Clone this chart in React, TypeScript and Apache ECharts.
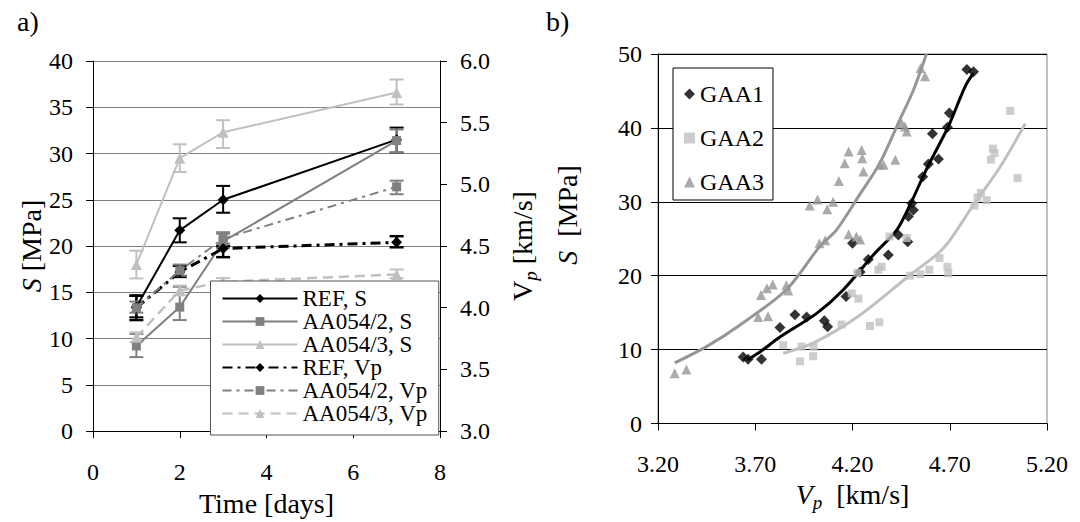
import React, { useEffect, useRef } from 'react';
import * as echarts from 'echarts';

// ---------- Panel a) ----------
const days = [1, 2, 3, 7];
const xTicksA = [0, 2, 4, 6, 8];

const refS = [13.4, 21.7, 25.0, 31.5];
const refSLow = [12.3, 20.4, 23.6, 30.1];
const refSHigh = [14.6, 23.0, 26.5, 32.8];

const aa2S = [9.2, 13.4, 20.5, 31.4];
const aa2SLow = [8.0, 12.0, 19.8, 30.1];
const aa2SHigh = [10.5, 15.6, 21.5, 32.6];

const aa3S = [18.0, 29.5, 32.3, 36.6];
const aa3SLow = [16.5, 28.0, 30.6, 35.3];
const aa3SHigh = [19.5, 31.0, 33.6, 38.0];

const refVp = [4.0, 4.29, 4.48, 4.53];
const refVpLow = [3.9, 4.25, 4.41, 4.49];
const refVpHigh = [4.1, 4.34, 4.5, 4.58];

const aa2Vp = [4.0, 4.3, 4.56, 4.98];
const aa2VpLow = [3.96, 4.26, 4.52, 4.92];
const aa2VpHigh = [4.05, 4.35, 4.6, 5.03];

const aa3Vp = [3.76, 4.14, 4.21, 4.27];
const aa3VpLow = [3.72, 4.1, 4.18, 4.24];
const aa3VpHigh = [3.8, 4.18, 4.24, 4.31];

// ---------- Panel b) ----------
const xTicksB = [3.2, 3.7, 4.2, 4.7, 5.2];

const gaa1Vp = [3.638, 3.663, 3.732, 3.827, 3.904, 3.964, 4.055, 4.072, 4.167, 4.2, 4.239, 4.281, 4.384, 4.436, 4.484, 4.487, 4.513, 4.505, 4.561, 4.59, 4.642, 4.611, 4.688, 4.698, 4.788, 4.822];
const gaa1S = [9.0, 8.7, 8.7, 13.0, 14.7, 14.4, 13.9, 13.1, 17.2, 24.4, 20.5, 22.2, 22.8, 25.5, 24.6, 28.0, 28.9, 29.8, 33.4, 35.1, 35.8, 39.2, 40.1, 42.0, 47.9, 47.6];

const gaa2Vp = [3.844, 3.93, 3.938, 3.998, 4.0, 4.144, 4.29, 4.338, 4.196, 4.23, 4.225, 4.333, 4.35, 4.39, 4.479, 4.496, 4.548, 4.595, 4.647, 4.688, 4.693, 4.843, 4.86, 4.827, 4.89, 4.912, 4.922, 4.93, 5.011, 5.049];
const gaa2S = [10.6, 8.4, 10.4, 9.1, 10.4, 13.4, 13.2, 13.7, 17.6, 16.9, 20.4, 20.8, 21.2, 25.3, 25.1, 20.0, 20.2, 20.8, 22.4, 21.2, 20.3, 30.6, 31.2, 29.5, 30.2, 35.7, 37.2, 36.6, 42.3, 33.2];

const gaa3Vp = [3.286, 3.346, 3.715, 3.766, 3.73, 3.76, 3.79, 3.86, 3.87, 4.03, 4.06, 4.18, 4.22, 4.24, 3.98, 4.02, 4.07, 4.1, 4.13, 4.16, 4.18, 4.247, 4.25, 4.256, 4.34, 4.36, 4.42, 4.453, 4.479, 4.47, 4.55, 4.573];
const gaa3S = [6.8, 7.3, 14.4, 14.5, 17.4, 18.3, 18.8, 18.7, 18.0, 24.4, 24.8, 25.6, 25.3, 24.9, 29.5, 30.3, 29.0, 30.0, 32.8, 35.2, 36.8, 37.0, 35.9, 34.1, 35.0, 35.0, 35.7, 40.6, 39.5, 40.2, 48.1, 47.0];

const trend1Vp = [3.66, 3.72, 3.827, 4.016, 4.153, 4.307, 4.428, 4.496, 4.582, 4.693, 4.779, 4.822];
const trend1S = [8.6, 9.6, 11.7, 14.9, 18.1, 22.8, 26.2, 29.6, 34.5, 40.2, 45.6, 47.4];
const trend2Vp = [3.844, 4.0, 4.23, 4.496, 4.667, 4.822, 4.959, 5.088];
const trend2S = [9.5, 10.9, 14.5, 20.1, 23.7, 29.6, 34.7, 40.6];
const trend3Vp = [3.286, 3.449, 3.62, 3.86, 4.03, 4.118, 4.24, 4.34, 4.443, 4.513, 4.58];
const trend3S = [8.2, 10.4, 13.3, 18.1, 23.9, 26.2, 31.1, 35.2, 41.1, 45.1, 50.0];

const BLACK = '#000000';
const DARK = '#808080';
const LIGHT = '#c0c0c0';
const MID = '#969696';
const FONT = 'Liberation Serif';
const FS = 24;   // tick labels
const FT = 28;   // axis titles

const zip = (a: number[], b: number[]) => a.map((v, i) => [v, b[i]]);

function errSeries(name: string, lo: number[], hi: number[], color: string, yAxisIndex: number, width: number) {
  return {
    type: 'custom',
    name,
    xAxisIndex: 0,
    yAxisIndex,
    silent: true,
    z: 3,
    data: days.map((d, i) => [d, lo[i], hi[i]]),
    encode: { x: 0, y: [1, 2] },
    renderItem: (_params: any, api: any) => {
      const x = api.value(0);
      const a = api.coord([x, api.value(1)]);
      const b = api.coord([x, api.value(2)]);
      const w = 7;
      const style = { stroke: color, lineWidth: width };
      return {
        type: 'group',
        children: [
          { type: 'line', shape: { x1: a[0], y1: a[1], x2: b[0], y2: b[1] }, style },
          { type: 'line', shape: { x1: a[0] - w, y1: a[1], x2: a[0] + w, y2: a[1] }, style },
          { type: 'line', shape: { x1: b[0] - w, y1: b[1], x2: b[0] + w, y2: b[1] }, style },
        ],
      };
    },
  };
}

function lineSeries(name: string, vals: number[], color: string, symbol: string, size: number, yAxisIndex: number, width: number, dash: any) {
  return {
    type: 'line',
    name,
    xAxisIndex: 0,
    yAxisIndex,
    data: zip(days, vals),
    symbol,
    symbolSize: size,
    showSymbol: true,
    z: 4,
    lineStyle: { color, width, type: dash },
    itemStyle: { color },
  };
}

const tickLabel = { fontSize: FS, fontFamily: FONT, color: BLACK };
const axisLineBlack = { show: true, lineStyle: { color: BLACK, width: 1 } };

export default function App() {
  const ref = useRef<HTMLDivElement>(null);
  useEffect(() => {
    if (!ref.current) return;
    const chart = echarts.init(ref.current, undefined, { renderer: 'svg' });
    const option: any = {
      animation: false,
      backgroundColor: '#ffffff',
      textStyle: { fontFamily: FONT },
      grid: [
        { left: 93, top: 61, width: 347, height: 372 },
        { left: 658, top: 54, width: 389, height: 369.5, show: true, borderColor: DARK, borderWidth: 1, backgroundColor: 'transparent' },
      ],
      xAxis: [
        {
          gridIndex: 0, type: 'value', min: 0, max: 8, interval: 2,
          axisLine: axisLineBlack,
          axisTick: { show: true, length: 7, lineStyle: { color: BLACK } },
          axisLabel: { ...tickLabel, margin: 29, customValues: xTicksA },
          splitLine: { show: false },
          name: 'Time [days]', nameLocation: 'middle', nameGap: 52,
          nameTextStyle: { fontSize: FT, fontFamily: FONT, color: BLACK },
        },
        {
          gridIndex: 1, type: 'value', min: 3.2, max: 5.2,
          axisLine: axisLineBlack,
          axisTick: { show: true, length: 7, lineStyle: { color: BLACK }, customValues: xTicksB },
          axisLabel: { ...tickLabel, margin: 28, customValues: xTicksB, formatter: (v: number) => v.toFixed(2) },
          splitLine: { show: false },
          name: '{v|V}{sub|p}  [km/s]', nameLocation: 'middle', nameGap: 50,
          nameTextStyle: {
            fontSize: FT, fontFamily: FONT, color: BLACK,
            rich: {
              v: { fontSize: FT, fontFamily: FONT, fontStyle: 'italic', color: BLACK },
              sub: { fontSize: 19, fontFamily: FONT, fontStyle: 'italic', color: BLACK, padding: [16, 0, 0, 0] },
            },
          },
        },
      ],
      yAxis: [
        {
          gridIndex: 0, type: 'value', min: 0, max: 40, interval: 5,
          axisLine: axisLineBlack,
          axisTick: { show: true, length: 7, lineStyle: { color: BLACK } },
          axisLabel: { ...tickLabel, margin: 20 },
          splitLine: { show: true, lineStyle: { color: DARK, width: 1 } },
          name: '{i|S} [MPa]', nameLocation: 'middle', nameGap: 46, nameRotate: 90,
          nameTextStyle: {
            fontSize: FT, fontFamily: FONT, color: BLACK,
            rich: { i: { fontSize: FT, fontFamily: FONT, fontStyle: 'italic', color: BLACK } },
          },
        },
        {
          gridIndex: 0, type: 'value', position: 'right', min: 3, max: 6, interval: 0.5,
          axisLine: axisLineBlack,
          axisTick: { show: true, length: 7, lineStyle: { color: BLACK } },
          axisLabel: { ...tickLabel, margin: 20, formatter: (v: number) => v.toFixed(1) },
          splitLine: { show: false },
          name: '{v|V}{sub|p} [km/s]', nameLocation: 'middle', nameGap: 65, nameRotate: 90,
          nameTextStyle: {
            fontSize: FT, fontFamily: FONT, color: BLACK,
            rich: {
              v: { fontSize: FT, fontFamily: FONT, color: BLACK },
              sub: { fontSize: 19, fontFamily: FONT, fontStyle: 'italic', color: BLACK, padding: [16, 0, 0, 0] },
            },
          },
        },
        {
          gridIndex: 1, type: 'value', min: 0, max: 50, interval: 10,
          axisLine: axisLineBlack,
          axisTick: { show: true, length: 7, lineStyle: { color: BLACK } },
          axisLabel: { ...tickLabel, margin: 16 },
          splitLine: { show: true, lineStyle: { color: BLACK, width: 1 } },
        },
      ],
      legend: [
        {
          left: 210.5, top: 281, orient: 'vertical',
          data: ['REF, S', 'AA054/2, S', 'AA054/3, S', 'REF, Vp', 'AA054/2, Vp', 'AA054/3, Vp'],
          itemWidth: 75, itemHeight: 11, itemGap: 0,
          padding: [6, 11, 10, 11],
          backgroundColor: '#ffffff', borderColor: '#555555', borderWidth: 1, borderRadius: 0,
          textStyle: { fontSize: 23, fontFamily: FONT, color: BLACK, lineHeight: 21.5 },
          selectedMode: false, z: 10,
        },
        {
          left: 673, top: 68, orient: 'vertical',
          data: ['GAA1', 'GAA2', 'GAA3'],
          itemWidth: 11, itemHeight: 11, itemGap: 20,
          padding: [14, 9, 6, 11],
          backgroundColor: '#ffffff', borderColor: BLACK, borderWidth: 1, borderRadius: 0,
          textStyle: { fontSize: 24, fontFamily: FONT, color: BLACK, lineHeight: 22 },
          selectedMode: false, z: 10,
        },
      ],
      graphic: [
        { type: 'text', x: 17, y: 7, style: { text: 'a)', fontSize: FT, fontFamily: FONT, fill: BLACK } },
        { type: 'text', x: 546, y: 7, style: { text: 'b)', fontSize: FT, fontFamily: FONT, fill: BLACK } },
        {
          type: 'text', x: 567, y: 215, rotation: Math.PI / 2,
          style: {
            text: '{i|S}  [MPa]', align: 'center', verticalAlign: 'middle',
            fontSize: FT, fontFamily: FONT, fill: BLACK,
            rich: { i: { fontSize: FT, fontFamily: FONT, fontStyle: 'italic', fill: BLACK } },
          },
        },
      ],
      series: [
        errSeries('err REF S', refSLow, refSHigh, BLACK, 0, 2),
        errSeries('err AA054/2 S', aa2SLow, aa2SHigh, DARK, 0, 2),
        errSeries('err AA054/3 S', aa3SLow, aa3SHigh, LIGHT, 0, 2),
        errSeries('err REF Vp', refVpLow, refVpHigh, BLACK, 1, 2.5),
        errSeries('err AA054/2 Vp', aa2VpLow, aa2VpHigh, DARK, 1, 2),
        errSeries('err AA054/3 Vp', aa3VpLow, aa3VpHigh, LIGHT, 1, 2),
        lineSeries('REF, S', refS, BLACK, 'diamond', 11, 0, 2, 'solid'),
        lineSeries('AA054/2, S', aa2S, DARK, 'rect', 9, 0, 2, 'solid'),
        lineSeries('AA054/3, S', aa3S, LIGHT, 'triangle', 11, 0, 2, 'solid'),
        lineSeries('REF, Vp', refVp, BLACK, 'diamond', 11, 1, 3, [10, 5, 3, 5]),
        lineSeries('AA054/2, Vp', aa2Vp, DARK, 'rect', 9, 1, 2, [9, 5, 3, 5]),
        lineSeries('AA054/3, Vp', aa3Vp, LIGHT, 'triangle', 11, 1, 2.5, [10, 6]),
        {
          type: 'line', name: 'GAA3 trend', xAxisIndex: 1, yAxisIndex: 2,
          data: zip(trend3Vp, trend3S), showSymbol: false, symbol: 'none', smooth: 0.3,
          lineStyle: { color: MID, width: 3 }, z: 3, silent: true,
        },
        {
          type: 'line', name: 'GAA1 trend', xAxisIndex: 1, yAxisIndex: 2,
          data: zip(trend1Vp, trend1S), showSymbol: false, symbol: 'none', smooth: 0.3,
          lineStyle: { color: BLACK, width: 3 }, z: 3, silent: true,
        },
        {
          type: 'line', name: 'GAA2 trend', xAxisIndex: 1, yAxisIndex: 2,
          data: zip(trend2Vp, trend2S), showSymbol: false, symbol: 'none', smooth: 0.3,
          lineStyle: { color: LIGHT, width: 3 }, z: 3, silent: true,
        },
        {
          type: 'scatter', name: 'GAA1', xAxisIndex: 1, yAxisIndex: 2,
          data: zip(gaa1Vp, gaa1S), symbol: 'diamond', symbolSize: 11,
          itemStyle: { color: BLACK }, z: 4,
        },
        {
          type: 'scatter', name: 'GAA2', xAxisIndex: 1, yAxisIndex: 2,
          data: zip(gaa2Vp, gaa2S), symbol: 'rect', symbolSize: 8,
          itemStyle: { color: LIGHT }, z: 4,
        },
        {
          type: 'scatter', name: 'GAA3', xAxisIndex: 1, yAxisIndex: 2,
          data: zip(gaa3Vp, gaa3S), symbol: 'triangle', symbolSize: 10,
          itemStyle: { color: MID }, z: 4,
        },
      ],
    };
    chart.setOption(option);
    return () => chart.dispose();
  }, []);
  return <div ref={ref} style={{ position: 'absolute', left: 0, top: 0, width: 1080, height: 522 }} />;
}
